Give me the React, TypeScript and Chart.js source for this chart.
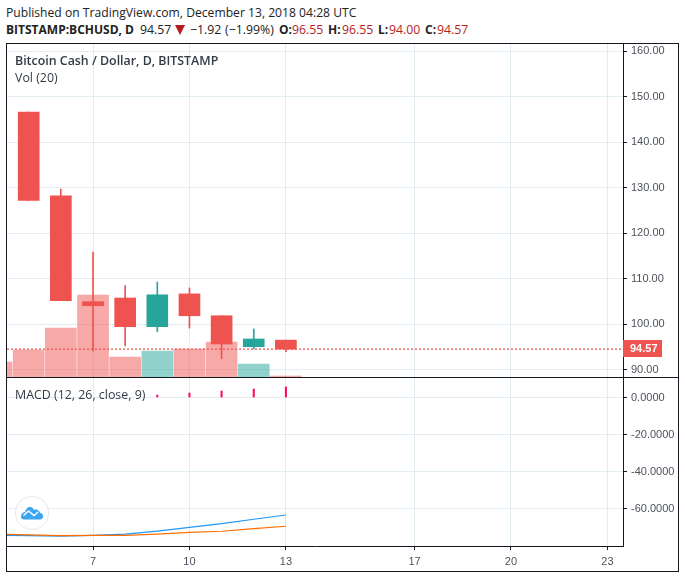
import { useEffect, useRef } from 'react';
import { Chart, registerables } from 'chart.js';

Chart.register(...registerables);

const GRID = '#e1ecf2';
const AXIS = '#131722';
const TEXT = '#4c525e';
const RED = '#ef5350';
const GREEN = '#26a69a';
const RED_VOL = 'rgba(239,83,80,0.5)';
const GREEN_VOL = 'rgba(38,166,154,0.5)';

const xMin = 4.325;
const xMax = 23.485;
const dayTicks = [7, 10, 13, 17, 20, 23];
const priceTicks = [160, 150, 140, 130, 120, 110, 100, 90];
const macdTicks = [0, -20, -40, -60];

const candleDays = [5, 6, 7, 8, 9, 10, 11, 12, 13];
const opens = [146.6, 128.2, 105.0, 105.8, 99.5, 106.7, 101.9, 95.1, 96.55];
const closes = [127.2, 105.2, 104.1, 99.5, 106.5, 101.9, 95.7, 96.8, 94.57];
const highs = [146.6, 129.7, 115.9, 108.5, 109.3, 108.0, 101.9, 99.0, 96.55];
const lows = [127.2, 105.2, 94.2, 95.3, 98.4, 99.2, 92.5, 94.6, 94.0];
const lastPrice = 94.57;

const volDays = [4, 5, 6, 7, 8, 9, 10, 11, 12, 13];
const volumes = [30000, 54000, 98000, 164000, 40000, 52000, 56000, 70000, 26000, 2000];
const volUp = [false, false, false, false, false, true, false, false, true, false];

const macdDays = [4, 5, 6, 7, 8, 9, 10, 11, 12, 13];
const macdLine = [-74.5, -74.7, -74.9, -74.5, -73.9, -72.2, -70.2, -68.2, -65.8, -63.5];
const signalLine = [-73.9, -74.3, -74.7, -74.5, -74.5, -73.8, -72.9, -72.3, -70.9, -69.6];
const histDays = [9, 10, 11, 12, 13];
const histValues = [1.3, 2.4, 3.5, 4.6, 5.7];

const tickFont = { family: '"Liberation Sans", Arial, sans-serif', size: 11 };

const lastPriceLabel = {
  id: 'lastPriceLabel',
  afterDraw(chart: any) {
    const { ctx, scales } = chart;
    const y = Math.round(scales.y.getPixelForValue(lastPrice));
    const x = scales.y.left;
    ctx.save();
    ctx.fillStyle = RED;
    ctx.fillRect(x, y - 9, 39, 17);
    ctx.fillStyle = '#fff';
    ctx.font = 'bold 11px "Liberation Sans", Arial, sans-serif';
    ctx.textBaseline = 'middle';
    ctx.fillText(lastPrice.toFixed(2), x + 7, y);
    ctx.restore();
  },
};

// the tick labels must not eat into the plot, the panes have fixed pixel sizes
function noPadding(s: any) {
  s.paddingTop = 0;
  s.paddingBottom = 0;
  s.paddingLeft = 0;
  s.paddingRight = 0;
}

function sharedX(showLabels: boolean) {
  return {
    type: 'linear',
    offset: false,
    min: xMin,
    max: xMax,
    afterBuildTicks: (s: any) => {
      s.ticks = dayTicks.map((value) => ({ value }));
    },
    afterFit: (s: any) => {
      s.height = showLabels ? 24 : 0;
      noPadding(s);
    },
    grid: { color: GRID, offset: false, drawTicks: showLabels, tickLength: 4, tickColor: AXIS },
    border: { display: showLabels, color: AXIS, width: 1 },
    ticks: {
      display: showLabels,
      autoSkip: false,
      maxRotation: 0,
      color: TEXT,
      font: tickFont,
      padding: 5,
      callback: (v: any) => String(v),
    },
  };
}

function rightAxis(min: number, max: number, values: number[], digits: number) {
  return {
    position: 'right',
    min,
    max,
    afterBuildTicks: (s: any) => {
      s.ticks = values.map((value) => ({ value }));
    },
    afterFit: (s: any) => {
      s.width = 55;
      noPadding(s);
    },
    grid: { color: GRID, drawTicks: true, tickLength: 4, tickColor: AXIS },
    border: { display: true, color: AXIS, width: 1 },
    ticks: {
      color: TEXT,
      font: tickFont,
      padding: 4,
      autoSkip: false,
      callback: (v: any) => Number(v).toFixed(digits),
    },
  };
}

const baseOptions = {
  animation: false,
  responsive: false,
  maintainAspectRatio: false,
  devicePixelRatio: 1,
  layout: { padding: 0 },
  plugins: { legend: { display: false }, tooltip: { enabled: false }, title: { display: false } },
};

function Price() {
  const canvasRef = useRef<HTMLCanvasElement>(null);

  useEffect(() => {
    if (!canvasRef.current) return;
    const candleColors = opens.map((o, i) => (closes[i] >= o ? GREEN : RED));
    const chart = new Chart(canvasRef.current, {
      type: 'bar',
      data: {
        datasets: [
          {
            label: 'Last',
            type: 'line',
            data: [
              { x: xMin, y: lastPrice },
              { x: xMax, y: lastPrice },
            ],
            yAxisID: 'y',
            borderColor: RED,
            borderWidth: 1.4,
            borderDash: [2, 2],
            pointRadius: 0,
            order: 0,
          },
          {
            label: 'Body',
            data: candleDays.map((x, i) => ({ x, y: [opens[i], closes[i]] })),
            yAxisID: 'y',
            backgroundColor: candleColors,
            barThickness: 21,
            grouped: false,
            order: 1,
          },
          {
            label: 'Wick',
            data: candleDays.map((x, i) => ({ x, y: [lows[i], highs[i]] })),
            yAxisID: 'y',
            backgroundColor: candleColors,
            barThickness: 1,
            grouped: false,
            order: 2,
          },
          {
            label: 'Vol',
            data: volDays.map((x, i) => ({ x, y: volumes[i] })),
            yAxisID: 'vol',
            backgroundColor: volUp.map((up) => (up ? GREEN_VOL : RED_VOL)),
            barThickness: 31,
            grouped: false,
            order: 3,
          },
        ],
      },
      options: {
        ...baseOptions,
        scales: {
          x: sharedX(false),
          y: rightAxis(88.46, 161.54, priceTicks, 2),
          vol: { display: false, min: 0, max: 666000 },
        },
      } as any,
      plugins: [lastPriceLabel],
    } as any);

    return () => chart.destroy();
  }, []);

  return (
    <canvas
      ref={canvasRef}
      width={671}
      height={333}
      style={{ position: 'absolute', left: 7, top: 44, width: 671, height: 333 }}
    />
  );
}

function Macd() {
  const canvasRef = useRef<HTMLCanvasElement>(null);

  useEffect(() => {
    if (!canvasRef.current) return;
    const chart = new Chart(canvasRef.current, {
      type: 'bar',
      data: {
        datasets: [
          {
            label: 'MACD',
            type: 'line',
            data: macdDays.map((x, i) => ({ x, y: macdLine[i] })),
            borderColor: '#2196f3',
            borderWidth: 1.2,
            pointRadius: 0,
            order: 1,
          },
          {
            label: 'Signal',
            type: 'line',
            data: macdDays.map((x, i) => ({ x, y: signalLine[i] })),
            borderColor: '#ff6d00',
            borderWidth: 1.2,
            pointRadius: 0,
            order: 0,
          },
          {
            label: 'Histogram',
            data: histDays.map((x, i) => ({ x, y: histValues[i] })),
            backgroundColor: '#ff0a5a',
            barThickness: 1.4,
            grouped: false,
            order: 2,
          },
        ],
      },
      options: {
        ...baseOptions,
        scales: {
          x: sharedX(true),
          y: rightAxis(-80.27, 10.54, macdTicks, 4),
        },
      } as any,
    } as any);

    return () => chart.destroy();
  }, []);

  return (
    <canvas
      ref={canvasRef}
      width={671}
      height={192}
      style={{ position: 'absolute', left: 7, top: 378, width: 671, height: 192 }}
    />
  );
}

const uiFont = '"Open Sans", "Noto Sans", sans-serif';
const darkRed = '#b71c1c';

function text(left: number, top: number, value: string, weight = 400, size = 12.4, color = '#333a47') {
  return (
    <div
      style={{
        position: 'absolute',
        left,
        top,
        font: `${weight} ${size}px ${uiFont}`,
        color,
        whiteSpace: 'nowrap',
      }}
    >
      {value}
    </div>
  );
}

export default function App() {
  return (
    <div
      style={{
        position: 'absolute',
        left: 0,
        top: 0,
        width: 685,
        height: 578,
        background: '#fff',
        overflow: 'hidden',
      }}
    >
      {text(6, 4, 'Published on TradingView.com, December 13, 2018 04:28 UTC', 400, 12.15, '#222')}
      {text(6, 21, 'BITSTAMP:BCHUSD, D', 700, 12, '#222')}
      {text(140, 21, '94.57', 400, 12.3, '#222')}
      <div
        style={{
          position: 'absolute',
          left: 175,
          top: 25,
          width: 0,
          height: 0,
          borderLeft: '5px solid transparent',
          borderRight: '5px solid transparent',
          borderTop: `10px solid ${darkRed}`,
        }}
      />
      {text(190, 21, '−1.92', 400, 12.3, '#222')}
      {text(225, 21, '(−1.99%)', 400, 12.3, '#222')}
      {text(279, 21, 'O:', 700, 12, '#222')}
      {text(292, 21, '96.55', 400, 12.3, darkRed)}
      {text(328, 21, 'H:', 700, 12, '#222')}
      {text(342, 21, '96.55', 400, 12.3, darkRed)}
      {text(378, 21, 'L:', 700, 12, '#222')}
      {text(389, 21, '94.00', 400, 12.3, darkRed)}
      {text(425, 21, 'C:', 700, 12, '#222')}
      {text(437, 21, '94.57', 400, 12.3, darkRed)}

      <Price />
      <Macd />

      <div
        style={{
          position: 'absolute',
          left: 6,
          top: 43,
          width: 671,
          height: 527,
          border: `1px solid ${AXIS}`,
          pointerEvents: 'none',
        }}
      />
      <div style={{ position: 'absolute', left: 6, top: 377, width: 672, height: 1, background: AXIS }} />

      {text(15, 52, 'Bitcoin Cash / Dollar, D, BITSTAMP', 600)}
      {text(15, 69, 'Vol (20)')}
      {text(15, 386, 'MACD (12, 26, close, 9)')}

      <svg style={{ position: 'absolute', left: 14, top: 495 }} width={36} height={36} viewBox="0 0 36 36">
        <circle cx="18" cy="18" r="16.5" fill="#fff" stroke="#e6e6e6" strokeWidth="1" />
        <path
          d="M7 21.5c0-2.6 1.8-4.2 4-4.4 .8-3.4 3-5.4 5.6-5 1.8 .3 2.8 1.6 3.4 2.8 2.8-1 5.4 .6 6 2.8 2 .4 3.2 1.8 3.2 3.6 0 2-1.4 3.2-3.2 3.2H10c-1.8 0-3-1.2-3-3z"
          fill="#3ba5ee"
        />
        <path d="M9.5 20.5l5-4.5 5.5 4.5 4-3.5" fill="none" stroke="#fff" strokeWidth="1.4" />
      </svg>
    </div>
  );
}
